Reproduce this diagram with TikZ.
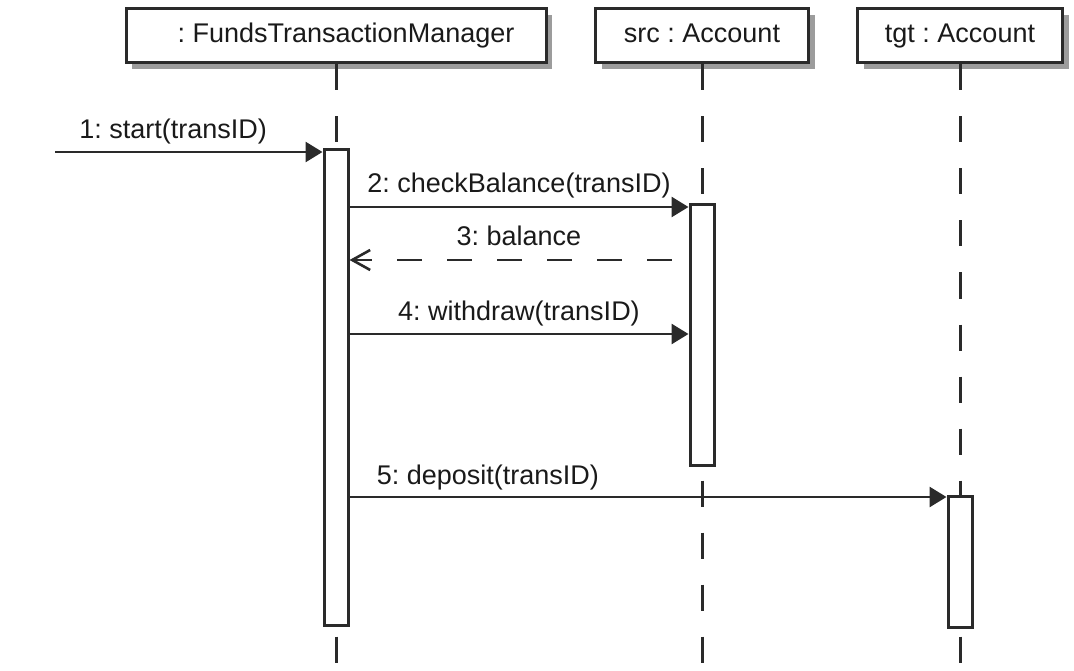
\documentclass[tikz,border=0pt]{standalone}
\usepackage{fontspec}
\setmainfont{Liberation Sans}
\usetikzlibrary{arrows.meta,positioning,shadows}
\definecolor{seqink}{HTML}{2A2A2A}
\definecolor{seqtext}{HTML}{1A1A1A}
\definecolor{seqshade}{HTML}{9C9C9C}
\tikzset{
  obj/.style={draw=seqink, line width=3pt, fill=white, minimum height=54pt, inner sep=0pt, text=seqtext,
    text height=20pt, text depth=6pt,
    font=\fontsize{27}{31}\selectfont, drop shadow={shadow xshift=6pt, shadow yshift=-6pt, fill=seqshade, opacity=1}},
  actbar/.style={draw=seqink, line width=3pt, fill=white, minimum width=24pt, inner sep=0pt},
  life/.style={seqink, line width=3pt, dash pattern=on 26pt off 26pt},
  msg/.style={-{Triangle[length=17pt, width=20pt]}, line width=2.8pt, color=seqink},
  ret/.style={-{Straight Barb[length=18pt, width=20pt]}, line width=2.6pt, color=seqink, dash pattern=on 25pt off 25pt, dash phase=33pt},
  lbl/.style={font=\fontsize{27}{31}\selectfont, text=seqtext, inner sep=0pt},
}
\frenchspacing
\begin{document}
\begin{tikzpicture}[x=1pt, y=-1pt]
  \useasboundingbox (0,0) rectangle (1074,671);
  % objects
  \node[obj, minimum width=420pt] (ftm) at (336,36) {\hspace*{20pt}: FundsTransactionManager};
  \node[obj, minimum width=213pt] (src) at (702,36) {src : Account};
  \node[obj, minimum width=205pt] (tgt) at (960,36) {tgt : Account};
  % lifelines
  \coordinate (bot) at (0,671);
  \draw[life] (ftm.south) -- (ftm.south |- bot);
  \draw[life] (src.south) -- (src.south |- bot);
  \draw[life] (tgt.south) -- (tgt.south |- bot);
  % activations
  \node[actbar, minimum height=475pt] (ftmact) at (336,387.5) {};
  \node[actbar, minimum height=260pt] (srcact) at (702,335) {};
  \node[actbar, minimum height=131pt] (tgtact) at (960,561.5) {};
  % message levels
  \coordinate (m1) at (55,152);
  \coordinate (y2) at (0,207);
  \coordinate (y3) at (0,260);
  \coordinate (y4) at (0,334);
  \coordinate (y5) at (0,497);
  % messages
  \draw[msg] (m1) -- (ftmact.west |- m1)
    node[lbl, pos=0, anchor=base west, xshift=23pt, yshift=13pt] {1: start(transID)};
  \draw[msg] (ftmact.east |- y2) -- (srcact.west |- y2)
    node[lbl, midway, anchor=base, yshift=14pt] {2: checkBalance(transID)};
  \draw[ret] (srcact.west |- y3) -- (ftmact.east |- y3)
    node[lbl, midway, anchor=base, yshift=14pt] {3: balance};
  \draw[msg] (ftmact.east |- y4) -- (srcact.west |- y4)
    node[lbl, midway, anchor=base, yshift=14pt] {4: withdraw(transID)};
  \draw[msg] (ftmact.east |- y5) -- (tgtact.west |- y5)
    node[lbl, pos=0, anchor=base west, xshift=26pt, yshift=13pt] {5: deposit(transID)};
\end{tikzpicture}
\end{document}
